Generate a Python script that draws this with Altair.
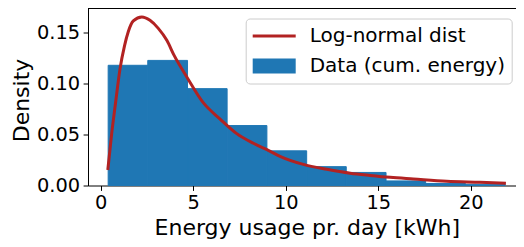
import altair as alt
import pandas as pd

# Histogram (density)
bin_edges = [0.40, 2.54, 4.69, 6.83, 8.98, 11.13, 13.27, 15.42, 17.56, 19.71, 21.86]
bin_density = [0.1179, 0.1227, 0.0950, 0.0588, 0.0340, 0.0185, 0.0128, 0.0045, 0.0020, 0.0012]

# Log-normal curve, points
curve_x = [0.38, 0.59, 0.81, 1.04, 1.28, 1.49, 1.76, 2.22, 2.66, 3.11, 3.57, 3.98,
           4.65, 5.55, 6.45, 7.35, 8.25, 9.11, 9.69, 10.95, 12.22, 13.48, 14.56,
           15.64, 16.9, 18.7, 20.5, 21.9]
curve_y = [0.0152, 0.0509, 0.0826, 0.1144, 0.1367, 0.1510, 0.1614, 0.1653, 0.1620,
           0.1541, 0.1424, 0.1271, 0.1065, 0.0810, 0.0652, 0.0509, 0.0414, 0.0340,
           0.0286, 0.0207, 0.0159, 0.0121, 0.0099, 0.0080, 0.0064, 0.0042, 0.0032,
           0.0023]

legend_labels = ["Log-normal dist", "Data (cum. energy)"]
legend_colors = ["#b22222", "#1f77b4"]
legend_shapes = ["M-1,-0.07H1V0.07H-1Z", "M-1,-0.35H1V0.35H-1Z"]

x_ticks = [0, 5, 10, 15, 20]
y_ticks = [0.0, 0.05, 0.10, 0.15]
x_domain = [-0.69, 22.445]
y_domain = [0.0, 0.1736]

W, H = 428, 177
TOP = 0.5

bars = pd.DataFrame({
    "start": bin_edges[:-1],
    "end": bin_edges[1:],
    "density": bin_density,
})
curve = pd.DataFrame({"x": curve_x, "y": curve_y})
leg = pd.DataFrame({"cat": legend_labels, "x": [10.0, 10.0], "y": [0.1, 0.1]})

FONT = "DejaVu Sans"

xscale = alt.Scale(domain=x_domain, nice=False, zero=False)
yscale = alt.Scale(domain=y_domain, nice=False, zero=False)

xaxis = alt.Axis(values=x_ticks, format="d", title="Energy usage pr. day [kWh]",
                 labelFlush=False, titleBaseline="alphabetic", titleX=218.8, titleY=48.6)
yaxis = alt.Axis(values=y_ticks, format=".2f", title="Density", labelFlush=False,
                 titleBaseline="alphabetic", titleX=-60, titleY=91.5)

bar_layer = alt.Chart(bars).mark_rect(
    color="#1f77b4", stroke="#1f77b4", strokeWidth=1
).encode(
    x=alt.X("start:Q", scale=xscale, axis=xaxis),
    x2="end:Q",
    y=alt.Y("density:Q", scale=yscale, axis=yaxis),
    y2=alt.datum(0),
)

line_layer = alt.Chart(curve).mark_line(
    color="#b22222", strokeWidth=3, interpolate="monotone"
).encode(
    x=alt.X("x:Q", scale=xscale),
    y=alt.Y("y:Q", scale=yscale),
)

# top spine of the axes frame
top_spine = alt.Chart(leg).mark_rule(color="black", strokeWidth=1).encode(
    x=alt.value(0), x2=alt.value(W), y=alt.value(0)
)

legend_spec = dict(
    title=None, orient="none", legendX=157.7, legendY=10.0, padding=6,
    fillColor="rgba(255,255,255,0.8)", strokeColor="#cccccc", cornerRadius=4,
    labelFont=FONT, labelFontSize=20, labelColor="black", labelLimit=400,
    symbolSize=1849, symbolStrokeWidth=0, symbolOpacity=1,
    symbolOffset=1, labelOffset=14, clipHeight=23, rowPadding=7,
)

legend_layer = alt.Chart(leg).mark_point(filled=True, opacity=0).encode(
    x=alt.X("x:Q", scale=xscale),
    y=alt.Y("y:Q", scale=yscale),
    color=alt.Color("cat:N", scale=alt.Scale(domain=legend_labels, range=legend_colors),
                    legend=alt.Legend(**legend_spec)),
    shape=alt.Shape("cat:N", scale=alt.Scale(domain=legend_labels, range=legend_shapes),
                    legend=alt.Legend(**legend_spec)),
)

chart = alt.layer(bar_layer, line_layer, top_spine, legend_layer).properties(
    width=W,
    height=H,
    padding={"left": 80, "top": TOP, "right": 0, "bottom": 231 - TOP - H},
    autosize=alt.AutoSizeParams(type="none"),
).configure_view(
    strokeWidth=0
).configure_axis(
    grid=False,
    domainColor="black", domainWidth=1,
    tickColor="black", tickWidth=1, tickSize=4.9,
    labelFont=FONT, labelFontSize=19.4, labelColor="black", labelPadding=3.4,
    titleFont=FONT, titleFontSize=22, titleColor="black", titleFontWeight="normal",
)

chart.save("out.html", embed_options={"renderer": "svg", "actions": False})
